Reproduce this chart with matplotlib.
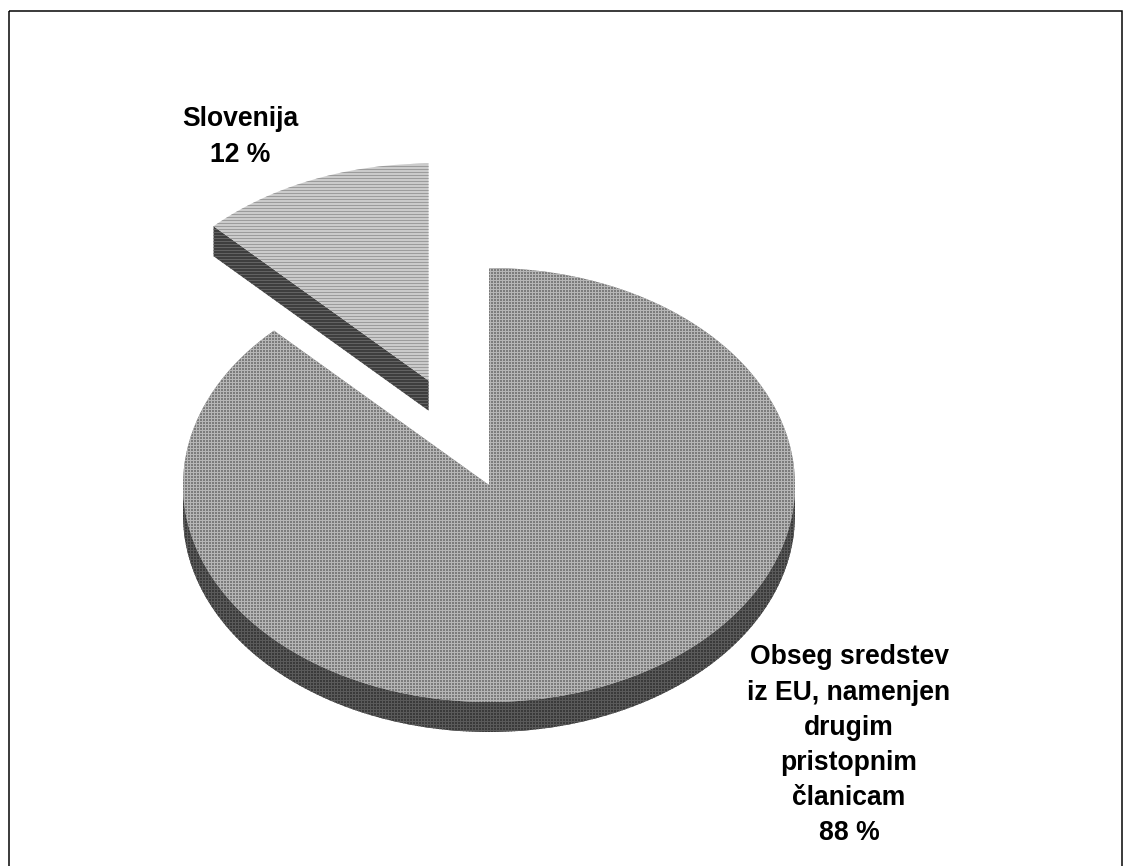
import numpy as np
import matplotlib
matplotlib.use('Agg')
import matplotlib.pyplot as plt
from matplotlib.patches import Polygon, Rectangle

# data (shares, labels show them rounded)
labels = ['Slovenija', 'Obseg sredstev\niz EU, namenjen\ndrugim\npristopnim\nčlanicam']
shares = [12.4, 87.6]
explode = [0.52, 0.0]

# look of the slices (top face, hatch on top, side face, hatch on side, hatch style)
top_colors = ['#cbcbcb', '#7c7c7c']
top_hatch_colors = ['#9c9c9c', '#b6b6b6']
side_colors = ['#3e3e3e', '#3a3a3a']
side_hatch_colors = ['#626262', '#5a5a5a']
hatches = ['------', '++++++']

# geometry of the tilted pie, in pixels (y down)
DPI = 108
W, H = 1131, 866
cx, cy = 489, 485
rx, ry = 306, 217
depth = 30
start_angle = 90.0

plt.rcParams['font.family'] = ['Liberation Sans', 'DejaVu Sans']
plt.rcParams['hatch.linewidth'] = 72.0 / DPI

fig = plt.figure(figsize=(W / DPI, H / DPI), dpi=DPI)
ax = fig.add_axes([0, 0, 1, 1])
ax.set_xlim(0, W)
ax.set_ylim(H, 0)
ax.axis('off')


def pt(ox, oy, th):
    return ox + rx * np.cos(np.radians(th)), oy - ry * np.sin(np.radians(th))


def arc(ox, oy, t1, t2, dz=0.0):
    th = np.linspace(t1, t2, max(int(abs(t2 - t1) * 2), 2))
    return np.column_stack([ox + rx * np.cos(np.radians(th)),
                            oy - ry * np.sin(np.radians(th)) + dz])


def face(xy, i, side):
    fc = side_colors[i] if side else top_colors[i]
    hc = side_hatch_colors[i] if side else top_hatch_colors[i]
    ax.add_patch(Polygon(xy, closed=True, facecolor=fc, edgecolor=hc,
                         linewidth=0, hatch=hatches[i]))


# angles of every slice, counter-clockwise from 12 o'clock
total = float(sum(shares))
edges = [start_angle]
for s in shares:
    edges.append(edges[-1] + 360.0 * s / total)

for i in range(len(shares)):
    t1, t2 = edges[i], edges[i + 1]
    mid = np.radians((t1 + t2) / 2)
    ox = cx + explode[i] * rx * np.cos(mid)
    oy = cy - explode[i] * ry * np.sin(mid)

    # outer rim, only the front half shows
    for a, b in [(180, 360), (540, 720)]:
        lo, hi = max(t1, a), min(t2, b)
        if hi > lo:
            top = arc(ox, oy, lo, hi)
            bot = arc(ox, oy, hi, lo, depth)
            face(np.vstack([top, bot]), i, True)

    # cut faces that turn towards the viewer
    for th, sgn in [(t1, -1), (t2, 1)]:
        normal = np.radians(th + sgn * 90)
        if np.sin(normal) < -1e-6:
            px, py = pt(ox, oy, th)
            face([(ox, oy), (px, py), (px, py + depth), (ox, oy + depth)], i, True)

    # top face
    face(np.vstack([[ox, oy], arc(ox, oy, t1, t2)]), i, False)

# labels
ax.text(240, 137, f'{labels[0]}\n{round(shares[0])} %', ha='center', va='center',
        fontsize=17.7, fontweight='bold', linespacing=1.46)
ax.text(849, 745.5, f'{labels[1]}\n{round(shares[1])} %', ha='center', va='center',
        fontsize=17.7, fontweight='bold', linespacing=1.46)

# frame round the chart area
ax.add_patch(Rectangle((8.5, 10.5), 1113, 880, fill=False, edgecolor='black',
                       linewidth=1.0, clip_on=False))

fig.savefig('out.png', dpi=DPI)
